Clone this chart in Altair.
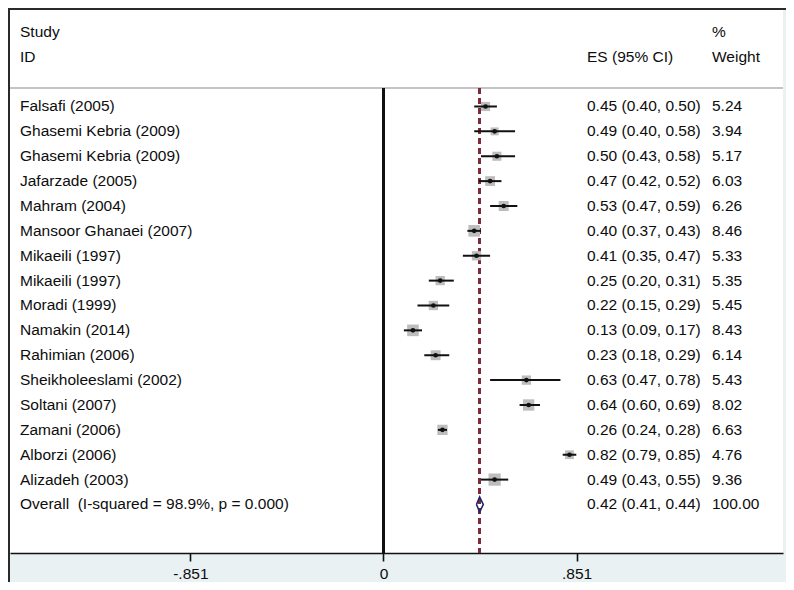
import altair as alt
import pandas as pd

# ---- data ----
studies = ["Falsafi (2005)", "Ghasemi Kebria (2009)", "Ghasemi Kebria (2009)",
           "Jafarzade (2005)", "Mahram (2004)", "Mansoor Ghanaei (2007)",
           "Mikaeili (1997)", "Mikaeili (1997)", "Moradi (1999)", "Namakin (2014)",
           "Rahimian (2006)", "Sheikholeeslami (2002)", "Soltani (2007)",
           "Zamani (2006)", "Alborzi (2006)", "Alizadeh (2003)"]
es = [0.45, 0.49, 0.50, 0.47, 0.53, 0.40, 0.41, 0.25, 0.22, 0.13, 0.23, 0.63, 0.64, 0.26, 0.82, 0.49]
lo = [0.40, 0.40, 0.43, 0.42, 0.47, 0.37, 0.35, 0.20, 0.15, 0.09, 0.18, 0.47, 0.60, 0.24, 0.79, 0.43]
hi = [0.50, 0.58, 0.58, 0.52, 0.59, 0.43, 0.47, 0.31, 0.29, 0.17, 0.29, 0.78, 0.69, 0.28, 0.85, 0.55]
weights = [5.24, 3.94, 5.17, 6.03, 6.26, 8.46, 5.33, 5.35, 5.45, 8.43, 6.14, 5.43, 8.02, 6.63, 4.76, 9.36]

overall_label = "Overall\u00a0 (I-squared = 98.9%, p = 0.000)"
overall_es, overall_lo, overall_hi, overall_w = 0.424, 0.41, 0.44, 100.00
overall_text = "0.42 (0.41, 0.44)"

tick_values = [-0.851, 0, 0.851]
tick_labels = ["-.851", "0", ".851"]

headers_left = [("Study", -3), ("ID", -2)]
headers_es = [("ES (95% CI)", -2)]
headers_w = [("%", -3), ("Weight", -2)]

# ---- tables ----
n = len(studies)
df = pd.DataFrame({
    "row": list(range(n)),
    "study": studies, "es": es, "lo": lo, "hi": hi, "w": weights,
    "es_txt": [f"{e:.2f} ({a:.2f}, {b:.2f})" for e, a, b in zip(es, lo, hi)],
    "w_txt": [f"{x:.2f}" for x in weights],
})
ov_row = n
labels_df = pd.DataFrame({
    "row": list(range(n)) + [ov_row],
    "study": studies + [overall_label],
    "es_txt": list(df["es_txt"]) + [overall_text],
    "w_txt": list(df["w_txt"]) + [f"{overall_w:.2f}"],
})
hdr_l = pd.DataFrame({"t": [h[0] for h in headers_left], "row": [h[1] for h in headers_left]})
hdr_e = pd.DataFrame({"t": [h[0] for h in headers_es], "row": [h[1] for h in headers_es]})
hdr_w = pd.DataFrame({"t": [h[0] for h in headers_w], "row": [h[1] for h in headers_w]})

half = 0.3
diamond = pd.DataFrame({
    "x": [overall_lo, overall_es, overall_hi, overall_es, overall_lo],
    "row": [ov_row, ov_row - half, ov_row, ov_row + half, ov_row],
    "o": [0, 1, 2, 3, 4],
})

# ---- layout ----
W, H = 773, 543
xscale = alt.Scale(domain=[-1.646, 1.761], nice=False, zero=False)
yscale = alt.Scale(domain=[-3.879, 17.95], reverse=True, nice=False, zero=False)
FONT = "Liberation Sans"
FS = 15.5
TXT = "#0d0d0d"

expr = "'" + tick_labels[-1] + "'"
for v, l in zip(tick_values[:-1][::-1], tick_labels[:-1][::-1]):
    expr = f"abs(datum.value - ({v})) < 1e-6 ? '{l}' : " + expr

xaxis = alt.Axis(values=tick_values, labelExpr=expr, title=None, grid=False,
                 domainColor="#111111", domainWidth=1.6, tickColor="#111111",
                 tickWidth=1.6, tickSize=8, labelFont=FONT, labelFontSize=FS,
                 labelColor=TXT, labelPadding=5)

X = lambda f: alt.X(f, scale=xscale, axis=xaxis)
Y = lambda f: alt.Y(f, scale=yscale, axis=None)

base = alt.Chart(df)

hline = alt.Chart(df).mark_rule(color="#c4c4c4", strokeWidth=2).encode(
    x=alt.value(0), x2=alt.value(W), y=alt.value(78))
zero = alt.Chart(df).mark_rule(color="#111111", strokeWidth=2).encode(
    x=alt.X(datum=0, scale=xscale, axis=xaxis), y=alt.value(78), y2=alt.value(H))
dash = alt.Chart(df).mark_rule(color="#7d2b3b", strokeWidth=2, strokeDash=[6, 4]).encode(
    x=alt.X(datum=overall_es), y=alt.value(78), y2=alt.value(H))

squares = base.mark_square(color="#bdbdbd", opacity=1).encode(
    x=X("es:Q"), y=Y("row:Q"),
    size=alt.Size("w:Q", scale=alt.Scale(domain=[0, 10], range=[0, 160]), legend=None))
ci = base.mark_rule(color="#111111", strokeWidth=2).encode(
    x=X("lo:Q"), x2="hi:Q", y=Y("row:Q"))
dots = base.mark_circle(color="#111111", size=22, opacity=1).encode(
    x=X("es:Q"), y=Y("row:Q"))

dia = alt.Chart(diamond).mark_line(color="#23236e", strokeWidth=1.6).encode(
    x=X("x:Q"), y=Y("row:Q"), order="o:Q")

def txt(data, field, xpx):
    return alt.Chart(data).mark_text(align="left", baseline="middle", font=FONT,
                                     fontSize=FS, color=TXT).encode(
        x=alt.value(xpx), y=Y("row:Q"), text=f"{field}:N")

t_study = txt(labels_df, "study", 10)
t_es = txt(labels_df, "es_txt", 577)
t_w = txt(labels_df, "w_txt", 702)
h_l = txt(hdr_l, "t", 10)
h_e = txt(hdr_e, "t", 577)
h_w = txt(hdr_w, "t", 702)

border_l = alt.Chart(df).mark_rule(color="#2a2a2a", strokeWidth=1.5).encode(
    x=alt.value(-1.25), y=alt.value(-2), y2=alt.value(H + 40))
border_t = alt.Chart(df).mark_rule(color="#2a2a2a", strokeWidth=1.5).encode(
    x=alt.value(-2), x2=alt.value(W + 12), y=alt.value(-1.25))

chart = alt.layer(
    hline, zero, dash, squares, ci, dots, dia,
    t_study, t_es, t_w, h_l, h_e, h_w, border_l, border_t
).properties(
    width=W, height=H, autosize="none",
    padding={"left": 2, "top": 2, "right": 3, "bottom": 29},
    background="#e9f1f3",
).configure_view(fill="white", stroke=None)

chart.save("out.html", embed_options={"renderer": "svg", "actions": False})
